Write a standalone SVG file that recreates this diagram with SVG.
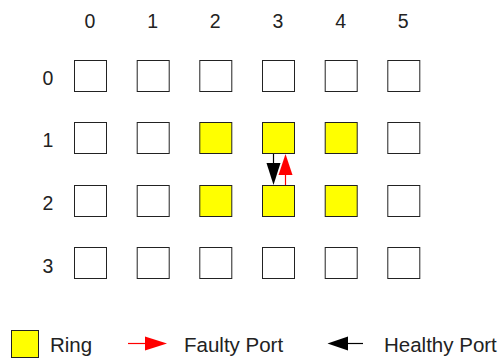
<svg xmlns="http://www.w3.org/2000/svg" width="498" height="361" viewBox="0 0 498 361">
  <style>
    .lbl { font-family: "Liberation Sans", Arial, sans-serif; font-size: 19.5px; fill: #222; text-anchor: middle; }
    .leg { font-family: "Liberation Sans", Arial, sans-serif; font-size: 20.5px; fill: #222; }
    .node rect { fill: #ffffff; stroke: #222; stroke-width: 1; }
    .node.ring rect { fill: #ffff00; }
    .port-ok { stroke: #000; stroke-width: 1.2; fill: none; }
    .port-bad { stroke: #ff0000; stroke-width: 1.2; fill: none; }
  </style>

  <!-- column indices -->
  <g id="col-labels">
    <text class="lbl" x="90" y="28">0</text>
    <text class="lbl" x="152.7" y="28">1</text>
    <text class="lbl" x="215.3" y="28">2</text>
    <text class="lbl" x="278" y="28">3</text>
    <text class="lbl" x="340.7" y="28">4</text>
    <text class="lbl" x="403.3" y="28">5</text>
  </g>
  <!-- row indices -->
  <g id="row-labels">
    <text class="lbl" x="48" y="84.5">0</text>
    <text class="lbl" x="48" y="147.2">1</text>
    <text class="lbl" x="48" y="209.8">2</text>
    <text class="lbl" x="48" y="272.5">3</text>
  </g>

  <!-- row 0 -->
  <g id="n-0-0" class="node"><rect x="74.5" y="60.5" width="32" height="31"/></g>
  <g id="n-0-1" class="node"><rect x="137.2" y="60.5" width="32" height="31"/></g>
  <g id="n-0-2" class="node"><rect x="199.8" y="60.5" width="32" height="31"/></g>
  <g id="n-0-3" class="node"><rect x="262.5" y="60.5" width="32" height="31"/></g>
  <g id="n-0-4" class="node"><rect x="325.2" y="60.5" width="32" height="31"/></g>
  <g id="n-0-5" class="node"><rect x="387.8" y="60.5" width="32" height="31"/></g>
  <!-- row 1 -->
  <g id="n-1-0" class="node"><rect x="74.5" y="122.5" width="32" height="31"/></g>
  <g id="n-1-1" class="node"><rect x="137.2" y="122.5" width="32" height="31"/></g>
  <g id="n-1-2" class="node ring"><rect x="199.8" y="122.5" width="32" height="31"/></g>
  <g id="n-1-3" class="node ring"><rect x="262.5" y="122.5" width="32" height="31"/></g>
  <g id="n-1-4" class="node ring"><rect x="325.2" y="122.5" width="32" height="31"/></g>
  <g id="n-1-5" class="node"><rect x="387.8" y="122.5" width="32" height="31"/></g>
  <!-- row 2 -->
  <g id="n-2-0" class="node"><rect x="74.5" y="185.5" width="32" height="31"/></g>
  <g id="n-2-1" class="node"><rect x="137.2" y="185.5" width="32" height="31"/></g>
  <g id="n-2-2" class="node ring"><rect x="199.8" y="185.5" width="32" height="31"/></g>
  <g id="n-2-3" class="node ring"><rect x="262.5" y="185.5" width="32" height="31"/></g>
  <g id="n-2-4" class="node ring"><rect x="325.2" y="185.5" width="32" height="31"/></g>
  <g id="n-2-5" class="node"><rect x="387.8" y="185.5" width="32" height="31"/></g>
  <!-- row 3 -->
  <g id="n-3-0" class="node"><rect x="74.5" y="247.5" width="32" height="31"/></g>
  <g id="n-3-1" class="node"><rect x="137.2" y="247.5" width="32" height="31"/></g>
  <g id="n-3-2" class="node"><rect x="199.8" y="247.5" width="32" height="31"/></g>
  <g id="n-3-3" class="node"><rect x="262.5" y="247.5" width="32" height="31"/></g>
  <g id="n-3-4" class="node"><rect x="325.2" y="247.5" width="32" height="31"/></g>
  <g id="n-3-5" class="node"><rect x="387.8" y="247.5" width="32" height="31"/></g>

  <!-- ports between (1,3) and (2,3) -->
  <g id="connectors">
    <line class="port-ok" x1="273.5" y1="154" x2="273.5" y2="166"/>
    <polygon points="266.5,163 280.5,163 273.5,185" fill="#000"/>
    <line class="port-bad" x1="285.5" y1="185" x2="285.5" y2="172"/>
    <polygon points="278.5,175 292.5,175 285.5,154" fill="#ff0000"/>
  </g>

  <!-- legend -->
  <g id="legend">
    <rect x="11.5" y="330.5" width="27" height="27" fill="#ffff00" stroke="#222"/>
    <text class="leg" x="50" y="352">Ring</text>
    <line x1="128" y1="343.5" x2="146" y2="343.5" stroke="#ff0000" stroke-width="1.2"/>
    <polygon points="145,336.5 145,350.5 167,343.5" fill="#ff0000"/>
    <text class="leg" x="184" y="352">Faulty Port</text>
    <line x1="347" y1="343.5" x2="363" y2="343.5" stroke="#000" stroke-width="1.2"/>
    <polygon points="348,336.5 348,350.5 327.5,343.5" fill="#000"/>
    <text class="leg" x="384" y="352">Healthy Port</text>
  </g>
</svg>
